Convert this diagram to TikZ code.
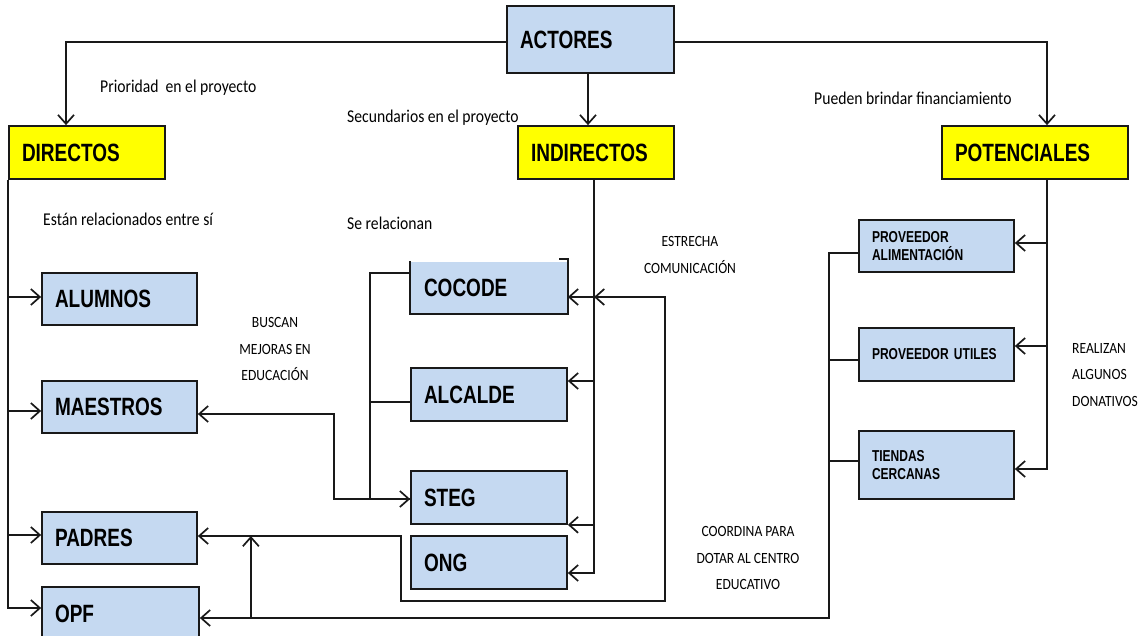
\documentclass[tikz,border=0pt]{standalone}
\usepackage{fontspec}
\usetikzlibrary{arrows.meta,calc}
\newfontfamily\labfont[FakeStretch=0.76]{Liberation Sans}
\newfontfamily\calfont[FakeStretch=0.87]{Carlito}
\definecolor{boxblue}{RGB}{197,217,241}
\definecolor{boxyellow}{RGB}{255,255,0}
\definecolor{ink}{RGB}{25,25,25}
\begin{document}
\begin{tikzpicture}[x=1pt,y=-1pt,
  >={Straight Barb[length=9pt,width=16pt]},
  conn/.style={draw=ink, line width=1.7pt},
  arr/.style={conn,->},
  boxbase/.style={line width=1.7pt, inner xsep=13pt, inner ysep=0pt, align=left, text=black},
  bigbox/.style={boxbase, draw=ink, font=\labfont\bfseries\fontsize{25}{28}\selectfont},
  smallbox/.style={boxbase, draw=ink, fill=boxblue, font=\labfont\bfseries\fontsize{15.8}{17.5}\selectfont,
    minimum width=155pt, text width=129pt},
  txt/.style={inner sep=0pt, text=black, font=\calfont\fontsize{18}{20}\selectfont},
  caps/.style={inner sep=0pt, text=black, font=\calfont\fontsize{15.6}{26.5}\selectfont}
]
\useasboundingbox (0,0) rectangle (1146,636);
\fill[white] (0,0) rectangle (1146,636);
\clip (0,0) rectangle (1146,636);

% headings
\node[bigbox, fill=boxblue, minimum width=167pt, text width=141pt, minimum height=67pt] (actores) at (590.5,39.5) {ACTORES};
\node[bigbox, fill=boxyellow, minimum width=156pt, text width=130pt, minimum height=53pt] (directos) at (87,152.5) {DIRECTOS};
\node[bigbox, fill=boxyellow, minimum width=156pt, text width=130pt, minimum height=53pt] (indirectos) at (596,152.5) {INDIRECTOS};
\node[bigbox, fill=boxyellow, minimum width=186pt, text width=160pt, minimum height=53pt] (potenciales) at (1035,152.5) {POTENCIALES};

% directos
\node[bigbox, fill=boxblue, minimum width=155pt, text width=129pt, minimum height=52pt] (alumnos) at (119.5,299) {ALUMNOS};
\node[bigbox, fill=boxblue, minimum width=155pt, text width=129pt, minimum height=52pt] (maestros) at (119.5,407) {MAESTROS};
\node[bigbox, fill=boxblue, minimum width=155pt, text width=129pt, minimum height=52pt] (padres) at (119.5,538) {PADRES};
\node[bigbox, fill=boxblue, minimum width=157pt, text width=131pt, minimum height=53pt] (opf) at (120.5,613.5) {OPF};

% indirectos
\node[bigbox, draw=none, fill=boxblue, minimum width=156pt, text width=130pt, minimum height=51pt] (cocode) at (489,287.5) {COCODE};
\draw[conn] (cocode.north west) -- (cocode.south west) -- (cocode.south east) -- ($(cocode.north east)+(0,-2)$) -- ++(-9,0);
\node[bigbox, fill=boxblue, minimum width=156pt, text width=130pt, minimum height=53pt] (alcalde) at (489,394.5) {ALCALDE};
\node[bigbox, fill=boxblue, minimum width=156pt, text width=130pt, minimum height=53pt] (steg) at (489,497.5) {STEG};
\node[bigbox, fill=boxblue, minimum width=156pt, text width=130pt, minimum height=53pt] (ong) at (489,562.5) {ONG};

% potenciales
\node[smallbox, minimum height=52pt] (provalim) at (936.5,246) {PROVEEDOR\\ALIMENTACIÓN};
\node[smallbox, minimum height=53pt] (provutil) at (936.5,354.5) {PROVEEDOR UTILES};
\node[smallbox, minimum height=68pt] (tiendas) at (936.5,465) {TIENDAS\\CERCANAS};

% top connectors
\draw[arr] ($(actores.west)+(0,2.5)$) -| ($(directos.north)+(-21,0)$);
\draw[arr] ($(actores.east)+(0,2.5)$) -| ($(potenciales.north)+(12,0)$);
\draw[arr] ($(actores.south)+(-2.5,0)$) -- ($(indirectos.north)+(-8,0)$);

% directos trunk
\coordinate (dtr) at (directos.south west);
\draw[arr] (dtr) |- ($(opf.west)+(0,-5.5)$);
\draw[arr] ($(alumnos.west -| dtr)+(0,-2)$) -- ($(alumnos.west)+(0,-2)$);
\draw[arr] ($(maestros.west -| dtr)+(0,4)$) -- ($(maestros.west)+(0,4)$);
\draw[arr] ($(padres.west -| dtr)+(0,-3)$) -- ($(padres.west)+(0,-3)$);

% indirectos trunk
\coordinate (itr) at ($(indirectos.south)+(-2,0)$);
\draw[arr] (itr) |- ($(ong.east)+(0,10.5)$);
\draw[arr] ($(cocode.east -| itr)+(0,9.5)$) -- ($(cocode.east)+(0,9.5)$);
\draw[arr] ($(alcalde.east -| itr)+(0,-13.5)$) -- ($(alcalde.east)+(0,-13.5)$);
\draw[arr] (steg.south east -| itr) -- (steg.south east);

% se relacionan bracket
\draw[conn] ($(cocode.west)+(0,-14.5)$) -- ++(-40,0) |- ($(steg.west)+(0,1.5)$);
\draw[conn] ($(alcalde.west)+(0,7.5)$) -- ++(-40,0);

% maestros <-> steg
\draw[arr,<->] ($(maestros.east)+(0,7)$) -- ++(136,0) |- ($(steg.west)+(0,1.5)$);

% padres <-> cocode
\draw[arr,<->] ($(padres.east)+(0,-2)$) -- ++(203,0) -- ++(0,65) -- ++(264,0) -- ++(0,-304) -- ($(cocode.east -| itr)+(0,9.5)$);

% upward arrow
\draw[arr] ($(opf.east)+(51,4.5)$) -- ($(padres.east)+(53,-2)$);

% potenciales left bracket to OPF
\draw[arr] ($(provalim.west)+(0,7)$) -- ++(-29,0) |- ($(opf.east)+(0,4.5)$);
\draw[conn] ($(provutil.west)+(0,5.5)$) -- ++(-29,0);
\draw[conn] ($(tiendas.west)+(0,-4)$) -- ++(-29,0);

% potenciales trunk
\coordinate (ptr) at ($(potenciales.south)+(12,0)$);
\draw[arr] (ptr) |- ($(tiendas.east)+(0,4)$);
\draw[arr] ($(provalim.east -| ptr)+(0,-3)$) -- ($(provalim.east)+(0,-3)$);
\draw[arr] ($(provutil.east -| ptr)+(0,-8.5)$) -- ($(provutil.east)+(0,-8.5)$);

% texts
\node[txt, anchor=west] (tprior) at (100,88) {Prioridad~ en el proyecto};
\node[txt, anchor=west] (tsecun) at (347,118) {Secundarios en el proyecto};
\node[txt, anchor=west] (tpueden) at (814,98) {Pueden brindar financiamiento};
\node[txt, anchor=west] (testan) at (43,219) {Están relacionados entre sí};
\node[txt, anchor=west] (tserel) at (347,223) {Se relacionan};
\node[caps, align=center] (testrecha) at (690,255) {ESTRECHA\\COMUNICACIÓN};
\node[caps, align=center] (tbuscan) at (275,349) {BUSCAN\\MEJORAS EN\\EDUCACIÓN};
\node[caps, align=center] (tcoord) at (748,558) {COORDINA PARA\\DOTAR AL CENTRO\\EDUCATIVO};
\node[caps, align=left, anchor=west] (trealizan) at (1072,375) {REALIZAN\\ALGUNOS\\DONATIVOS};
\end{tikzpicture}
\end{document}
